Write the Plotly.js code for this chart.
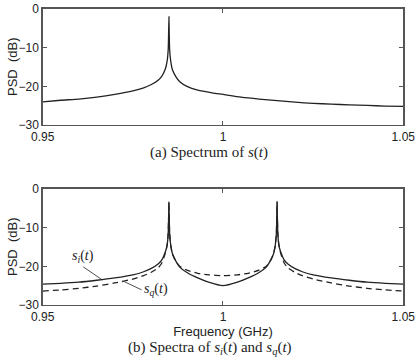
<!DOCTYPE html>
<html>
<head>
<meta charset="utf-8">
<script src="https://cdn.plot.ly/plotly-3.0.1.min.js"></script>
<style>html,body{margin:0;padding:0;background:#fff}#chart{width:418px;height:364px}</style>
</head>
<body>
<div id="chart"></div>
<script>
// (a) spectrum of s(t)
var freqA = [0.950,0.955,0.960,0.965,0.970,0.975,0.978,0.980,0.982,0.983,0.984,0.9845,0.9848,0.9849,0.985,0.9851,0.9852,0.9855,0.986,0.987,0.988,0.990,0.993,0.997,1.000,1.005,1.010,1.015,1.020,1.025,1.030,1.035,1.040,1.045,1.050];
var psdA  = [-24.0,-23.6,-23.3,-22.8,-22.1,-21.2,-20.4,-19.6,-18.4,-17.4,-15.5,-13.5,-10.5,-7,-2,-7,-10.5,-13.5,-15.8,-17.6,-18.8,-20.0,-21.0,-21.7,-22.1,-22.8,-23.3,-23.7,-24.1,-24.4,-24.6,-24.8,-24.95,-25.1,-25.2];

// (b) spectra of s_i(t) and s_q(t)
var freqB = [0.950,0.955,0.960,0.965,0.970,0.975,0.978,0.980,0.982,0.983,0.984,0.9845,0.9848,0.9849,0.985,0.9851,0.9852,0.9855,0.986,0.987,0.988,0.990,0.993,0.996,1.000,
             1.004,1.007,1.010,1.012,1.013,1.014,1.0145,1.0148,1.0149,1.015,1.0151,1.0152,1.0155,1.016,1.017,1.018,1.020,1.022,1.025,1.030,1.035,1.040,1.045,1.050];
var psdI  = [-24.6,-24.4,-24.1,-23.6,-23.0,-22.2,-21.4,-20.6,-19.4,-18.4,-16.3,-14.5,-11.5,-8,-3.3,-8,-11.5,-14.5,-16.8,-18.8,-20.2,-21.6,-23.0,-24.1,-25.0,
             -24.1,-23.0,-21.6,-20.2,-18.8,-16.8,-14.5,-11.5,-8,-3.3,-8,-11.5,-14.5,-16.3,-18.4,-19.4,-20.6,-21.4,-22.2,-23.0,-23.6,-24.1,-24.4,-24.6];
var psdQ  = [-26.4,-26.1,-25.7,-25.1,-24.3,-23.3,-22.4,-21.6,-20.4,-19.2,-16.6,-14.5,-11.5,-8,-3.3,-8,-11.5,-14.5,-16.8,-18.8,-20.0,-21.0,-21.8,-22.2,-22.4,
             -22.2,-21.8,-21.0,-20.0,-18.8,-16.8,-14.5,-11.5,-8,-3.3,-8,-11.5,-14.5,-16.6,-19.2,-20.4,-21.6,-22.4,-23.3,-24.3,-25.1,-25.7,-26.1,-26.4];

var xTicks = [0.95, 1, 1.05];
var xTickText = ['0.95', '1', '1.05'];
var yTicks = [0, -10, -20, -30];

var lineCol = '#222';
var traces = [
  {x: freqA, y: psdA, type: 'scatter', mode: 'lines', line: {color: lineCol, width: 1.3, shape: 'spline', smoothing: 0.5}, xaxis: 'x', yaxis: 'y', hoverinfo: 'skip'},
  {x: freqB, y: psdQ, type: 'scatter', mode: 'lines', line: {color: lineCol, width: 1.3, dash: '6px,4px', shape: 'spline', smoothing: 0.5}, xaxis: 'x2', yaxis: 'y2', hoverinfo: 'skip'},
  {x: freqB, y: psdI, type: 'scatter', mode: 'lines', line: {color: lineCol, width: 1.3, shape: 'spline', smoothing: 0.5}, xaxis: 'x2', yaxis: 'y2', hoverinfo: 'skip'}
];

var tickFont = {family: 'Liberation Sans, Arial, sans-serif', size: 12, color: '#222'};
var titleFont = {family: 'Liberation Sans, Arial, sans-serif', size: 13, color: '#222'};
function xax(anchor, title) {
  var o = {domain: [0.1022, 0.9648], range: [0.95, 1.05], anchor: anchor, tickvals: xTicks, ticktext: xTickText,
    ticks: 'inside', ticklen: 4, tickcolor: '#555', showline: true, mirror: 'allticks', linecolor: '#555', linewidth: 1.5,
    showgrid: false, zeroline: false, tickfont: tickFont};
  if (title) o.title = {text: title, font: titleFont, standoff: 2};
  return o;
}
function yax(anchor, dom) {
  return {domain: dom, range: [-30, 0], anchor: anchor, tickvals: yTicks,
    ticks: 'inside', ticklen: 4, tickcolor: '#555', showline: true, mirror: 'allticks', linecolor: '#555', linewidth: 1.5,
    showgrid: false, zeroline: false, tickfont: tickFont};
}

var serif = {family: 'Liberation Serif, Times New Roman, serif', size: 15, color: '#222'};
var labelFont = {family: 'Liberation Serif, Times New Roman, serif', size: 14, color: '#222'};
var layout = {
  width: 418, height: 364,
  margin: {l: 0, r: 0, t: 0, b: 0},
  paper_bgcolor: '#fff', plot_bgcolor: '#fff',
  showlegend: false,
  xaxis: xax('y', null),
  yaxis: yax('x', [0.6566, 0.9753]),
  xaxis2: xax('y2', 'Frequency (GHz)'),
  yaxis2: yax('x2', [0.1621, 0.4808]),
  annotations: [
    {xref: 'paper', yref: 'paper', x: 12/418, y: 1 - 67/364, text: 'PSD  (dB)', textangle: -90, showarrow: false, font: titleFont, xanchor: 'center', yanchor: 'middle'},
    {xref: 'paper', yref: 'paper', x: 12/418, y: 1 - 247/364, text: 'PSD  (dB)', textangle: -90, showarrow: false, font: titleFont, xanchor: 'center', yanchor: 'middle'},
    {xref: 'paper', yref: 'paper', x: 209/418, y: 1 - 152/364, text: '(a) Spectrum of <i>s</i>(<i>t</i>)', showarrow: false, font: serif, xanchor: 'center', yanchor: 'middle'},
    {xref: 'paper', yref: 'paper', x: 210/418, y: 1 - 348/364, text: '(b) Spectra of <i>s</i><sub><i>i</i></sub>(<i>t</i>) and <i>s</i><sub><i>q</i></sub>(<i>t</i>)', showarrow: false, font: serif, xanchor: 'center', yanchor: 'middle'},
    {xref: 'x2', yref: 'y2', x: 0.9665, y: -23.5, ax: -19, ay: -13, text: '<i>s</i><sub><i>i</i></sub>(<i>t</i>)', showarrow: true, arrowhead: 0, arrowwidth: 0.8, arrowcolor: '#222', font: labelFont, xanchor: 'center', yanchor: 'bottom', standoff: 0},
    {xref: 'x2', yref: 'y2', x: 0.9727, y: -24.0, ax: 17, ay: 8, text: '<i>s</i><sub><i>q</i></sub>(<i>t</i>)', showarrow: true, arrowhead: 0, arrowwidth: 0.8, arrowcolor: '#222', font: labelFont, xanchor: 'left', yanchor: 'middle', standoff: 0}
  ]
};

Plotly.newPlot('chart', traces, layout, {staticPlot: true, displayModeBar: false});
</script>
</body>
</html>
